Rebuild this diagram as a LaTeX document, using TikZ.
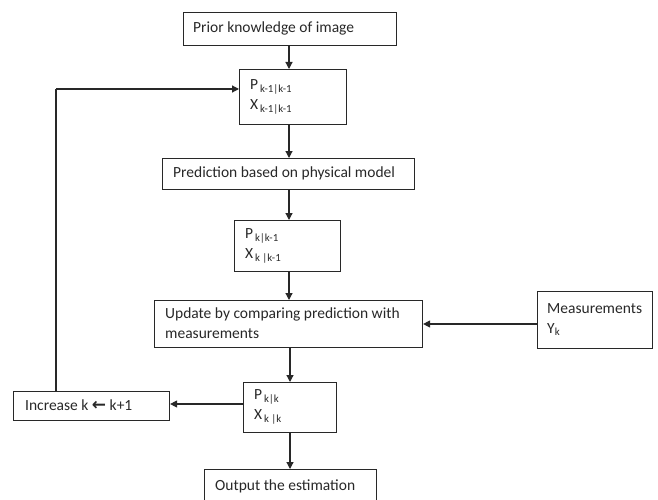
\documentclass[tikz,border=0pt]{standalone}
\usepackage{fontspec}
\setmainfont{Carlito}
\newfontfamily\dejavu{DejaVu Sans}
\usetikzlibrary{arrows.meta}
\definecolor{ink}{RGB}{40,40,40}
\tikzset{
  box/.style={draw=ink, line width=1.1pt, anchor=north west, inner sep=0pt},
  lbl/.style={text=ink, font=\fontsize{15.5}{20}\selectfont, anchor=west, align=left, inner sep=0pt},
  arr/.style={draw=ink, line width=1.2pt, -{Triangle[length=7pt,width=7pt]}},
  ln/.style={draw=ink, line width=1.2pt}
}
\newcommand{\bx}[7]{% name, x1, y1, x2, y2, text offset, text
  \node[box, minimum width={#4-#2}, minimum height={#5-#3}] (#1) at (#2,#3) {};
  \node[lbl] (#1t) at ({#2+#6},{(#3+#5)/2}) {#7};
}
\begin{document}
\begin{tikzpicture}[x=1pt,y=-1pt]
\clip (0,0) rectangle (658,500);
\useasboundingbox (0,0) rectangle (658,500);
\fill[white] (0,0) rectangle (658,500);
\bx{prior}{183}{12}{396}{45}{10}{Prior knowledge of image}
\bx{pa}{239}{69}{346}{124}{11}{P\textsubscript{\,k-1|k-1}\\X\textsubscript{\,k-1|k-1}}
\bx{pred}{162}{158}{414}{189}{11}{Prediction based on physical model}
\bx{pb}{234}{220}{340}{271}{11}{P\textsubscript{\,k|k-1}\\X\textsubscript{\,k |k-1}}
\bx{upd}{154}{300}{422}{347}{11}{Update by comparing prediction with\\measurements}
\bx{meas}{537}{291}{652}{348}{10}{Measurements\\Y\textsubscript{k}}
\bx{pc}{243}{382}{336}{432}{11}{P\textsubscript{\,k|k}\\X\textsubscript{\,k |k}}
\bx{inc}{13}{391}{169}{420}{12}{Increase k {\dejavu\bfseries\fontsize{17}{17}\selectfont ←}\ k+1}
\bx{out}{204}{469}{376}{504}{11}{Output the estimation}
\coordinate (c1) at (289,45);
\draw[arr] (prior.south -| c1) -- (pa.north -| c1);
\draw[arr] (pa.south -| c1) -- (pred.north -| c1);
\draw[arr] (pred.south -| c1) -- (pb.north -| c1);
\draw[arr] (pb.south -| c1) -- (upd.north -| c1);
\coordinate (c2) at (290,324);
\draw[arr] (meas.west |- c2) -- (upd.east |- c2);
\draw[arr] (upd.south -| c2) -- (pc.north -| c2);
\draw[arr] (pc.south -| c2) -- (out.north -| c2);
\coordinate (c3) at (170,404);
\draw[arr] (pc.west |- c3) -- (inc.east |- c3);
\coordinate (c4) at (56,89);
\draw[ln] (inc.north -| c4) -- (c4);
\draw[arr] (c4) -- (pa.west |- c4);
\end{tikzpicture}
\end{document}
